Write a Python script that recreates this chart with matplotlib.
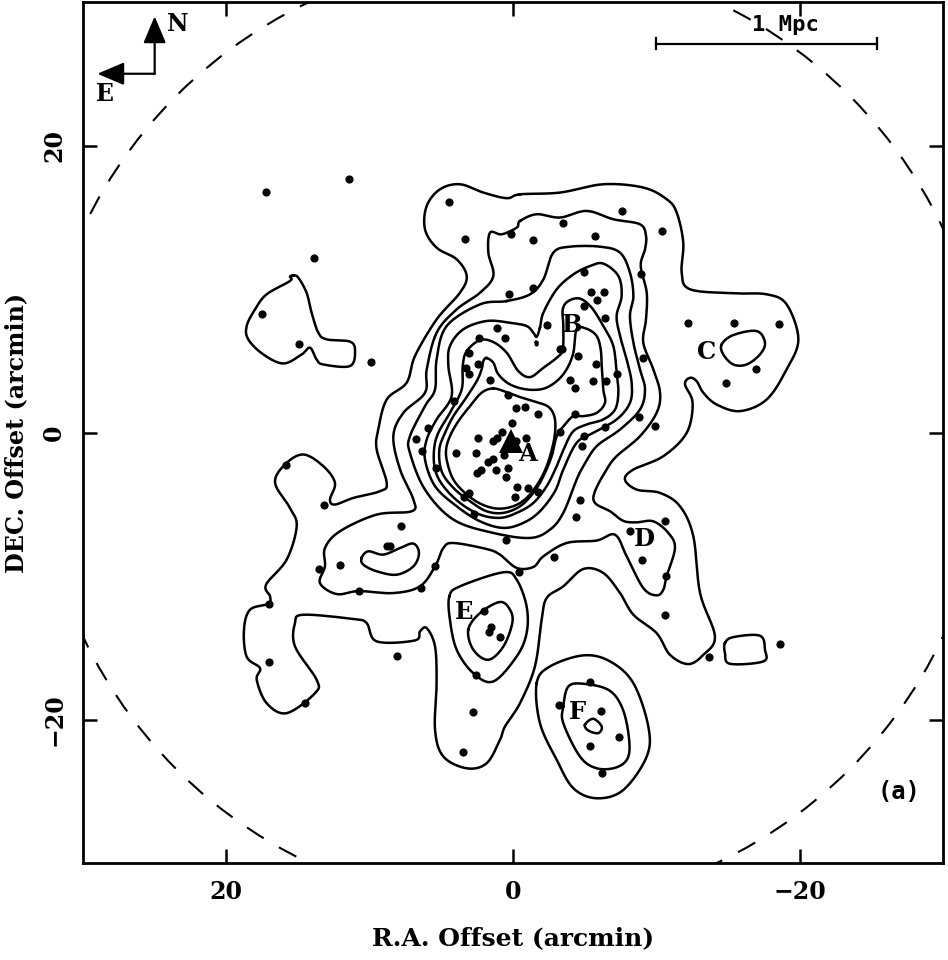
import numpy as np
import matplotlib
matplotlib.use('Agg')
import matplotlib.pyplot as plt
from matplotlib.patches import Circle

# galaxy positions, arcmin (R.A. offset, DEC. offset)
gal_x = [-4.98, -1.42, 0.28, -5.44, -6.33, -5.84, -4.93, -6.42, -8.91, -2.35, 1.09, 0.58, 2.37, 3.09, 3.3, 3.07,
         2.44, 1.58, -3.4, -3.27, -4.56, -5.81, -9.07, -7.28, -3.98, -4.33, -5.56, -6.51, 0.37, -0.19, -0.86,
         -1.74, -4.3, -8.79, -9.93, -6.42, 0.07, 0.77, -3.28, -4.93, -4.79, 1.14, 1.37, 2.47, -0.23, -0.91, 3.95,
         2.56, 0.6, 1.37, 1.77, 5.37, 0.35, 1.21, 2.23, 2.51, 0.47, -0.26, -1.02, -1.72, -0.16, 3.05, 3.44, 2.72,
         -4.7, -4.4, 0.49, 7.84, 8.58, 8.8, 6.74, 5.91, 6.37, 4.14, -8.16, -10.6, 9.91,
         17.26, 11.44, 4.47, 3.33, 0.14, 13.86, 17.51, 14.95,
         -7.63, -10.42, -3.47, -5.72, -1.42, -12.23, -15.42, -18.53, -16.93, -14.84,
         15.84, 13.16, 13.56, 12.07, 10.77, 6.44, 5.42, 17.02, 17.0, 14.49, 8.12, -0.44, 2.05, 1.53, 1.65, 0.91,
         2.6, 2.79, 3.49,
         -2.88, -8.98, -10.65, -10.6, -13.65, -18.63, -5.4, -3.19, -6.12, -7.42, -5.4, -6.23]
gal_y = [11.21, 10.05, 9.65, 9.77, 9.77, 9.26, 8.79, 8.0, 11.05, 7.51, 7.3, 6.56, 6.56, 5.53, 4.49, 4.05,
         4.77, 3.65, 5.84, 5.84, 5.33, 4.77, 5.21, 4.05, 3.67, 3.07, 3.56, 3.58, 2.58, 1.7, 1.77,
         1.26, 1.3, 1.07, 0.42, 0.35, 0.63, 0.05, 0.05, -0.23, -0.91, -0.37, -0.6, -0.35, -0.56, -0.4, -1.42,
         -1.4, -1.6, -1.84, -2.05, -2.47, -2.47, -2.6, -2.63, -2.81, -3.09, -3.81, -3.84, -4.14, -4.47, -4.23, -4.49, -5.67,
         -4.67, -5.88, -7.49, -6.49, -7.88, -7.93, -0.42, 0.28, -1.28, 2.21, -6.84, -6.16, 4.93,
         16.79, 17.7, 16.07, 13.47, 13.81, 12.16, 8.23, 6.14,
         15.47, 14.07, 14.63, 13.67, 13.44, 7.65, 7.6, 7.58, 4.4, 3.47,
         -2.26, -5.05, -9.51, -9.21, -11.05, -10.81, -9.3, -11.95, -15.98, -18.88, -15.56, -9.74, -12.44, -13.56, -13.91, -14.28,
         -16.93, -19.49, -22.23,
         -8.67, -8.91, -10.02, -12.7, -15.63, -14.77, -17.37, -18.98, -19.44, -21.21, -21.86, -23.72]

# contours, arcmin
core = [(1.37, 3.07), (.44, 2.81), (-.49, 2.47), (-1.65, 2.12), (-2.47, 1.79), (-2.88, 1.14), (-2.95, .21),
        (-2.77, -.95), (-2.35, -2.35), (-1.77, -3.51), (-.95, -4.56), (-.02, -5.14), (1.14, -5.3), (2.3, -4.95),
        (3.35, -4.21), (4.16, -3.28), (4.58, -2.12), (4.67, -1.19), (4.4, -.26), (3.81, .79), (3.0, 1.84), (2.19, 2.77)]
ridge1 = [(1.84, 5.19), (1.37, 4.86), (1.02, 4.05), (.21, 3.35), (-.95, 3.0), (-2.12, 3.05), (-3.05, 3.58),
          (-3.74, 4.4), (-4.21, 5.56), (-4.44, 7.19), (-5.14, 7.23), (-5.84, 6.72), (-6.12, 5.79), (-6.19, 4.63),
          (-6.3, 3.0), (-6.42, 2.07), (-5.84, 1.37), (-4.91, 1.14), (-4.21, 1.14), (-3.63, .56), (-3.05, -.26),
          (-2.7, -1.65), (-2.12, -3.05), (-1.42, -4.21), (-.49, -5.14), (.67, -5.6), (1.84, -5.49), (3.0, -4.79),
          (4.16, -3.86), (4.98, -2.7), (5.14, -1.19), (4.74, -.02), (4.16, 1.14), (3.35, 2.3), (2.53, 3.58),
          (2.19, 4.4), (2.07, 4.98)]
ridge2 = [(3.23, 5.67), (2.3, 6.44), (1.37, 6.3), (.44, 5.56), (-.37, 4.28), (-1.19, 3.86), (-2.12, 4.51),
          (-3.05, 5.21), (-3.47, 5.79), (-3.51, 7.42), (-3.47, 8.58), (-3.86, 9.16), (-4.67, 9.33), (-5.49, 8.7),
          (-6.3, 7.42), (-7.0, 6.02), (-7.23, 4.16), (-7.35, 2.77), (-7.12, 1.6), (-6.3, .91), (-5.14, .56),
          (-4.21, .09), (-3.63, -.95), (-3.05, -2.35), (-2.35, -3.74), (-1.42, -4.91), (-.26, -5.6), (.91, -5.95),
          (2.3, -5.72), (3.7, -4.91), (4.86, -3.74), (5.44, -2.58), (5.51, -1.19), (5.21, -.02), (4.4, 1.37),
          (3.58, 3.0), (3.51, 4.63)]
ridge3 = [(-1.88, 7.3), (-2.12, 8.35), (-3.05, 9.98), (-4.21, 11.02), (-5.37, 11.6), (-6.3, 11.77), (-7.35, 10.91),
          (-7.58, 9.51), (-7.23, 8.12), (-7.47, 6.72), (-7.93, 5.09), (-8.28, 3.47), (-8.16, 2.07), (-7.23, .91),
          (-5.6, -.02), (-4.44, -.72), (-3.51, -2.58), (-2.93, -4.09), (-1.88, -5.49), (-.72, -6.3), (.67, -6.65),
          (2.3, -6.19), (3.93, -5.14), (5.44, -3.74), (6.14, -1.88), (6.02, -.49), (5.33, .91), (4.28, 2.53),
          (4.51, 4.63), (4.4, 6.02), (3.47, 7.19), (1.84, 7.77), (.21, 7.65), (-.95, 7.42), (-1.42, 6.95), (-1.65, 6.67)]
ridge4 = [(.44, 9.16), (-1.19, 9.63), (-2.12, 10.67), (-2.81, 12.53), (-3.98, 12.95), (-6.07, 12.95), (-7.47, 12.53),
          (-8.16, 11.14), (-8.4, 9.51), (-8.16, 8.12), (-8.4, 6.26), (-8.86, 4.4), (-9.21, 3.0), (-8.86, 1.6),
          (-7.47, .21), (-5.84, -.95), (-4.91, -2.35), (-4.44, -3.28), (-3.51, -5.6), (-2.58, -6.77), (-1.19, -7.35),
          (1.37, -7.0), (4.16, -6.07), (6.14, -3.98), (7.19, -1.42), (7.19, -.26), (6.14, 1.84), (5.44, 3.0),
          (5.33, 5.09), (4.63, 7.42), (2.3, 8.93)]
middle = [(-.49, 14.74), (-1.65, 15.21), (-3.28, 14.98), (-5.14, 15.44), (-7.0, 14.86), (-8.86, 14.51), (-9.28, 13.7),
          (-9.21, 12.77), (-8.91, 11.6), (-9.33, 9.74), (-9.28, 7.88), (-9.09, 6.26), (-9.79, 4.4), (-10.26, 2.77),
          (-10.02, 1.37), (-8.86, -.26), (-7.23, -1.65), (-6.53, -2.58), (-5.72, -4.09), (-5.72, -4.91), (-6.77, -5.49),
          (-7.7, -6.16), (-8.63, -6.26), (-9.79, -6.19), (-10.84, -7.0), (-11.3, -8.05), (-10.72, -10.02), (-10.49, -10.95),
          (-10.02, -11.35), (-9.09, -10.84), (-7.93, -8.63), (-7.12, -7.12), (-5.84, -7.53), (-3.74, -7.7), (-2.12, -8.63),
          (-1.42, -9.37), (-.26, -9.44), (.91, -8.51), (1.84, -8.12), (4.16, -7.7), (4.86, -8.05), (5.42, -9.3),
          (6.49, -10.72), (8.35, -11.19), (10.77, -11.05), (12.3, -11.26), (13.47, -10.49), (13.12, -9.33), (13.12, -8.05),
          (12.07, -6.88), (9.51, -5.72), (7.07, -5.49), (6.95, -4.67), (7.88, -2.58), (8.35, -.26), (7.65, 1.37),
          (6.14, 2.77), (6.02, 4.4), (5.33, 6.95), (3.93, 8.58), (2.3, 9.74), (1.37, 10.91), (1.72, 12.53), (1.6, 13.93),
          (.79, 13.81), (-.26, 14.28)]
outer = [(-.49, 16.6), (-3.28, 16.72), (-6.3, 17.3), (-9.09, 17.07), (-10.72, 16.26), (-11.42, 15.33), (-11.88, 13.23),
         (-11.77, 11.14), (-12.35, 9.98), (-15.37, 9.7), (-17.7, 9.63), (-19.09, 8.93), (-19.91, 6.49), (-19.09, 4.4),
         (-17.7, 2.3), (-15.84, 1.49), (-14.21, 1.95), (-13.28, 2.77), (-12.81, 3.58), (-12.35, 3.81), (-12.0, 3.35),
         (-12.53, 2.07), (-12.12, -.02), (-10.49, -1.65), (-8.4, -2.58), (-7.81, -3.28), (-8.63, -3.98), (-10.26, -4.21),
         (-11.65, -5.14), (-12.58, -7.23), (-13.05, -11.19), (-14.09, -14.21), (-13.28, -15.49), (-12.23, -16.14),
         (-10.95, -15.49), (-10.02, -13.98), (-8.4, -12.7), (-7.47, -11.19), (-6.3, -9.79), (-4.91, -9.51), (-3.51, -10.72),
         (-2.35, -11.53), (-2.0, -13.05), (-1.53, -16.3), (-.49, -18.86), (.56, -20.49), (.91, -21.42), (1.84, -23.05),
         (3.23, -23.4), (4.86, -22.58), (5.44, -20.72), (5.33, -17.47), (5.44, -14.91), (6.02, -13.63), (6.49, -13.86),
         (6.84, -14.49), (9.51, -14.56), (10.21, -13.28), (11.14, -13.0), (14.63, -12.7), (15.21, -13.28), (15.21, -14.91),
         (13.7, -17.23), (13.81, -18.16), (15.79, -19.56), (17.19, -18.86), (17.88, -17.23), (17.65, -16.42), (18.58, -15.63),
         (18.77, -13.74), (18.35, -12.35), (17.07, -11.93), (16.95, -11.42), (17.23, -10.6), (15.79, -8.86), (15.09, -6.53),
         (15.56, -5.26), (16.6, -3.51), (15.91, -2.23), (14.63, -1.53), (13.23, -2.35), (12.42, -3.51), (12.77, -4.67),
         (12.42, -5.02), (11.14, -4.56), (9.28, -4.09), (8.81, -3.51), (9.51, -1.19), (9.4, .21), (8.81, 2.3), (7.42, 3.47),
         (6.84, 5.33), (5.33, 7.88), (3.7, 9.74), (3.23, 10.91), (3.93, 12.07), (5.33, 12.88), (6.14, 14.16), (6.02, 15.79),
         (5.09, 16.95), (3.7, 17.3), (2.07, 16.72), (.44, 16.33)]
west_blob = [(15.33, 10.95), (14.98, 10.79), (14.4, 9.74), (14.05, 8.35), (13.58, 6.95), (13.0, 6.49), (11.37, 6.33),
             (11.02, 5.67), (11.37, 4.63), (13.23, 4.74), (13.7, 5.09), (14.16, 5.91), (14.74, 5.44), (16.02, 4.81),
             (17.42, 5.44), (18.47, 6.49), (18.58, 7.42), (18.0, 8.58), (17.19, 9.63), (15.56, 10.56), (15.56, 10.86)]
peak_c = [(-14.56, 6.14), (-15.37, 6.79), (-17.0, 7.07), (-17.58, 6.26), (-17.23, 5.44), (-16.3, 4.74), (-15.37, 4.74), (-14.67, 5.44)]
box_se = [(-14.79, -14.67), (-15.37, -14.26), (-17.23, -14.16), (-17.58, -15.14), (-17.47, -15.95), (-15.14, -16.12), (-14.79, -15.37)]
peak_s = [(10.56, -8.74), (10.09, -8.28), (9.05, -8.51), (7.88, -8.05), (6.95, -7.74), (6.56, -8.4), (6.95, -9.33),
          (8.12, -9.91), (9.51, -9.67), (10.44, -9.21)]
e_outer = [(4.44, -11.42), (3.7, -10.72), (.67, -9.74), (-.26, -10.26), (-.95, -12.12), (-.95, -13.98), (-.26, -15.6),
           (1.37, -17.35), (2.77, -16.77), (3.93, -15.14), (4.4, -13.05)]
e_inner = [(3.12, -13.74), (2.3, -12.58), (.91, -11.81), (.21, -12.35), (.05, -13.28), (.67, -14.91), (1.72, -15.84), (2.77, -15.14)]
f_outer = [(-1.65, -17.47), (-2.58, -16.3), (-4.91, -15.53), (-6.77, -15.95), (-8.4, -17.47), (-9.44, -20.49), (-9.33, -22.58),
           (-7.7, -24.91), (-5.84, -25.49), (-4.21, -24.79), (-3.05, -22.81), (-1.88, -20.26)]
f_mid = [(-3.51, -19.09), (-3.86, -17.7), (-4.91, -17.51), (-6.65, -17.93), (-7.58, -19.09), (-8.05, -20.95), (-8.05, -22.58),
         (-7.23, -23.33), (-5.84, -23.4), (-4.67, -22.58), (-3.51, -20.26)]
f_inner = [(-5.02, -20.37), (-5.6, -19.95), (-6.19, -20.49), (-5.95, -20.95), (-5.26, -20.77)]
speck = [(-1.6, 6.3), (-1.7, 6.3), (-1.7, 6.1), (-1.6, 6.1)]

contours = [core, ridge1, ridge2, ridge3, ridge4, middle, outer, west_blob, peak_c, box_se, peak_s,
            e_outer, e_inner, f_outer, f_mid, f_inner, speck]

clump_names = ['A', 'B', 'C', 'D', 'E', 'F']
clump_x = [-1.05, -4.1, -13.5, -9.2, 3.4, -4.5]
clump_y = [-1.47, 7.47, 5.6, -7.4, -12.5, -19.5]


def smooth_closed(pts, n=8):
    # closed catmull-rom through the read points
    p = np.array(pts, dtype=float)
    out = []
    for i in range(len(p)):
        p0, p1, p2, p3 = p[i - 1], p[i], p[(i + 1) % len(p)], p[(i + 2) % len(p)]
        for t in np.linspace(0, 1, n, endpoint=False):
            out.append(0.5 * (2 * p1 + (p2 - p0) * t + (2 * p0 - 5 * p1 + 4 * p2 - p3) * t**2
                              + (3 * p1 - p0 - 3 * p2 + p3) * t**3))
    out.append(out[0])
    return np.array(out)


plt.rcParams['font.family'] = 'DejaVu Serif'
plt.rcParams['font.weight'] = 'bold'

fig = plt.figure(figsize=(9.48, 9.6), dpi=100)
ax = fig.add_axes([83 / 948, 1 - 863 / 960, 860 / 948, 861 / 960])
ax.set_xlim(30, -30)
ax.set_ylim(-30, 30)

ax.add_patch(Circle((0, 0), 33.2, fill=False, ec='k', lw=1.5, ls=(0, (9.5, 8.5))))

for c in contours:
    xy = smooth_closed(c)
    ax.plot(xy[:, 0], xy[:, 1], color='k', lw=1.8, solid_joinstyle='round')

ax.plot(gal_x, gal_y, 'o', color='k', ms=5.9, mew=0, ls='none')
ax.plot([0.17], [-0.6], '^', color='k', ms=17, mew=0)

for name, x, y in zip(clump_names, clump_x, clump_y):
    ax.text(x, y, name, fontsize=17.5, ha='center', va='center')

# N / E compass
arrow = dict(arrowstyle='-|>,head_length=1.65,head_width=0.7', color='k', lw=1.6, shrinkA=0, shrinkB=0)
ax.annotate('', xy=(25, 29), xytext=(25, 25), arrowprops=arrow)
ax.annotate('', xy=(29, 25), xytext=(25, 25), arrowprops=arrow)
ax.text(23.4, 28.5, 'N', fontsize=17, ha='center', va='center')
ax.text(28.5, 23.6, 'E', fontsize=17, ha='center', va='center')

# scale bar
ax.plot([-10, -25.4], [27.1, 27.1], color='k', lw=1.6)
ax.plot([-10, -10], [26.7, 27.5], color='k', lw=1.6)
ax.plot([-25.4, -25.4], [26.7, 27.5], color='k', lw=1.6)
ax.text(-19, 28.4, '1 Mpc', fontsize=16, ha='center', va='center', fontfamily='DejaVu Sans Mono')
ax.text(-26.9, -25.05, '(a)', fontsize=17, ha='center', va='center', fontfamily='DejaVu Sans Mono')

ax.set_xticks([20, 0, -20])
ax.set_xticklabels(['20', '0', '\u221220'], fontsize=17)
ax.set_yticks([20, 0, -20])
ax.set_yticklabels(['20', '0', '\u221220'], fontsize=17, rotation=90, va='center')
ax.tick_params(direction='in', length=10, width=1.8, top=True, right=True, pad=12)
for s in ax.spines.values():
    s.set_linewidth(2.0)
ax.set_xlabel('R.A. Offset (arcmin)', fontsize=18, fontweight='bold', labelpad=16)
ax.set_ylabel('DEC. Offset (arcmin)', fontsize=17.2, fontweight='bold', labelpad=10)

fig.savefig('out.png', dpi=100)
